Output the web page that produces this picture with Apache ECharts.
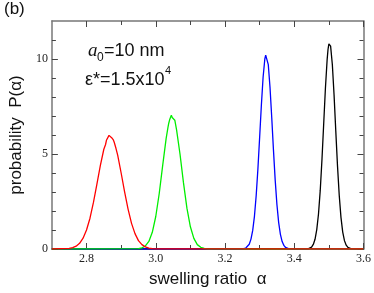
<!DOCTYPE html>
<html><head><meta charset="utf-8">
<script src="https://cdn.jsdelivr.net/npm/echarts@6/dist/echarts.min.js"></script>
<style>html,body{margin:0;padding:0;background:#fff}#c{width:374px;height:293px}</style>
</head><body><div id="c"></div>
<script>
const xMajorTicks = [2.8, 3.0, 3.2, 3.4, 3.6];
const xMinorTicks = [2.9, 3.1, 3.3, 3.5];
const yMajorTicks = [0, 5, 10];
const yMinorTicks = [1, 2, 3, 4, 6, 7, 8, 9, 11];

const redData = [[2.7,0],[2.75,0.03],[2.76,0.07],[2.77,0.15],[2.78,0.30],[2.79,0.57],[2.80,1.00],[2.81,1.62],[2.82,2.45],[2.83,3.41],[2.84,4.40],[2.85,5.25],[2.855,5.50],[2.8575,5.72],[2.86,5.80],[2.8625,5.78],[2.865,5.98],[2.8675,5.88],[2.87,6.05],[2.8725,5.86],[2.875,5.92],[2.8775,5.74],[2.88,5.62],[2.885,5.30],[2.89,4.94],[2.90,4.00],[2.91,3.01],[2.92,2.10],[2.93,1.35],[2.94,0.81],[2.95,0.44],[2.96,0.23],[2.97,0.11],[2.98,0.05],[2.99,0.02],[3.00,0.01],[3.6,0]];
const greenData = [[2.7,0],[2.95,0.02],[2.96,0.06],[2.97,0.16],[2.98,0.40],[2.99,0.88],[3.00,1.71],[3.01,2.92],[3.02,4.40],[3.03,5.82],[3.035,6.38],[3.0375,6.62],[3.04,6.80],[3.0425,6.86],[3.045,7.04],[3.0475,6.92],[3.05,7.02],[3.0525,6.84],[3.055,6.78],[3.06,6.28],[3.07,5.00],[3.08,3.49],[3.09,2.15],[3.10,1.17],[3.11,0.56],[3.12,0.23],[3.13,0.09],[3.14,0.03],[3.15,0.01],[3.6,0]];
const blueData = [[2.7,0],[3.25,0.01],[3.255,0.02],[3.26,0.05],[3.265,0.11],[3.27,0.25],[3.275,0.52],[3.28,0.98],[3.285,1.72],[3.29,2.80],[3.295,4.21],[3.30,5.87],[3.305,7.57],[3.31,9.04],[3.315,10.00],[3.3175,10.20],[3.32,10.28],[3.3225,10.15],[3.325,9.70],[3.33,8.50],[3.335,6.91],[3.34,5.19],[3.345,3.61],[3.35,2.33],[3.355,1.39],[3.36,0.77],[3.365,0.39],[3.37,0.19],[3.375,0.08],[3.38,0.03],[3.385,0.01],[3.6,0]];
const blackData = [[2.7,0],[3.44,0.01],[3.445,0.04],[3.45,0.10],[3.455,0.24],[3.46,0.51],[3.465,1.02],[3.47,1.84],[3.475,3.07],[3.48,4.70],[3.485,6.58],[3.49,8.46],[3.495,9.97],[3.4975,10.50],[3.50,10.80],[3.5025,10.90],[3.505,10.68],[3.51,9.71],[3.515,8.10],[3.52,6.19],[3.525,4.35],[3.53,2.80],[3.535,1.65],[3.54,0.89],[3.545,0.44],[3.55,0.20],[3.555,0.08],[3.56,0.03],[3.565,0.01],[3.6,0]];

const AX = '#777';
const TK = '#444';
const serif = 'Liberation Serif';
const sans = 'Liberation Sans';

function xAx(pos, ticks, len, labels, line) {
  return {
    type: 'value', min: 2.7, max: 3.6, position: pos,
    axisLine: { show: line, onZero: false, lineStyle: { color: AX, width: 1.5 } },
    axisTick: { show: true, inside: true, length: len, customValues: ticks, lineStyle: { color: TK, width: 1 } },
    axisLabel: labels ? { show: true, customValues: ticks, formatter: v => v.toFixed(1), fontFamily: serif, fontSize: 12, color: '#222', margin: 4 } : { show: false },
    splitLine: { show: false }
  };
}
function yAx(pos, ticks, len, labels, line) {
  return {
    type: 'value', min: 0, max: 12, position: pos,
    axisLine: { show: line, onZero: false, lineStyle: { color: AX, width: 1.5 } },
    axisTick: { show: true, inside: true, length: len, customValues: ticks, lineStyle: { color: TK, width: 1 } },
    axisLabel: labels ? { show: true, customValues: ticks, formatter: v => String(v), fontFamily: serif, fontSize: 12, color: '#222', margin: 4 } : { show: false },
    splitLine: { show: false }
  };
}

const xb = xAx('bottom', xMajorTicks, 6, true, true);
xb.name = 'swelling ratio  \u03b1';
xb.nameLocation = 'middle';
xb.nameGap = 22;
xb.nameTextStyle = { fontFamily: sans, fontSize: 17, color: '#111' };
const yl = yAx('left', yMajorTicks, 6, true, true);
yl.name = 'probability  P(\u03b1)';
yl.nameLocation = 'middle';
yl.nameGap = 18;
yl.nameTextStyle = { fontFamily: sans, fontSize: 17, color: '#111' };

const chart = echarts.init(document.getElementById('c'), null, { renderer: 'canvas' });
function line(d, c) {
  return { type: 'line', data: d, xAxisIndex: 0, yAxisIndex: 0, showSymbol: false, symbol: 'none',
    lineStyle: { color: c, width: 1.3 }, itemStyle: { color: c }, animation: false, z: 3 };
}
chart.setOption({
  animation: false,
  grid: { left: 38, right: 9, top: 21, bottom: 42 },
  xAxis: [xb, xAx('bottom', xMinorTicks, 4, false, false), xAx('top', xMajorTicks, 6, false, true), xAx('top', xMinorTicks, 4, false, false)],
  yAxis: [yl, yAx('left', yMinorTicks, 4, false, false), yAx('right', yMajorTicks, 6, false, true), yAx('right', yMinorTicks, 4, false, false)],
  series: [line(blackData, '#000000'), line(blueData, '#0000ff'), line(greenData, '#00ee00'), line(redData, '#ff0000')],
  graphic: [
    { type: 'text', left: 4, top: 1, style: { text: '(b)', font: '17px "Liberation Sans"', fill: '#111' } },
    { type: 'text', left: 88, top: 41, style: { text: 'a', font: 'italic 19px "Liberation Serif"', fill: '#111' } },
    { type: 'text', left: 97, top: 52, style: { text: '0', font: '12px "Liberation Sans"', fill: '#111' } },
    { type: 'text', left: 104, top: 42, style: { text: '=10 nm', font: '18px "Liberation Sans"', fill: '#111' } },
    { type: 'text', left: 85, top: 71, style: { text: '\u03b5*=1.5x10', font: '18px "Liberation Sans"', fill: '#111' } },
    { type: 'text', left: 165, top: 65, style: { text: '4', font: '11px "Liberation Sans"', fill: '#111' } }
  ]
});
</script></body></html>
